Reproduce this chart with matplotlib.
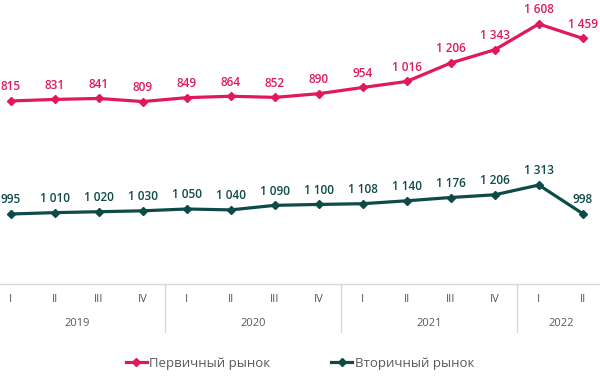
import matplotlib.pyplot as plt
import matplotlib.transforms as mtransforms
from matplotlib.lines import Line2D

plt.rcParams['font.family'] = ['Open Sans', 'DejaVu Sans']

quarters = ['I', 'II', 'III', 'IV', 'I', 'II', 'III', 'IV', 'I', 'II', 'III', 'IV', 'I', 'II']
years = ['2019', '2020', '2021', '2022']
year_quarters = [4, 4, 4, 2]
primary = [815, 831, 841, 809, 849, 864, 852, 890, 954, 1016, 1206, 1343, 1608, 1459]
secondary = [995, 1010, 1020, 1030, 1050, 1040, 1090, 1100, 1108, 1140, 1176, 1206, 1313, 998]

pink = '#E0195A'
teal = '#0E4B48'
grey = '#595959'

W, H = 600, 378
fig = plt.figure(figsize=(W / 100, H / 100), dpi=100)
base_y = 284  # pixel row of the category axis line

ax = fig.add_axes([0, 1 - base_y / H, 1, base_y / H])
ax2 = ax.twinx()
x = list(range(len(quarters)))

ax.plot(x, primary, color=pink, lw=2.3, marker='D', ms=4.5, zorder=3)
ax2.plot(x, secondary, color=teal, lw=2.3, marker='D', ms=4.5, zorder=3)

ax.set_xlim(-0.243, 13.39)
ax.set_ylim(-1070, 1855)
ax2.set_ylim(227, 3343)

def fmt(v):
    return f'{v:,}'.replace(',', ' ')

for xi, v in zip(x, primary):
    ax.annotate(fmt(v), (xi, v), xytext=(0, 5.5), textcoords='offset points',
                ha='center', va='bottom', fontsize=8.5, color=pink, fontweight='semibold')
for xi, v in zip(x, secondary):
    ax2.annotate(fmt(v), (xi, v), xytext=(0, 5.5), textcoords='offset points',
                 ha='center', va='bottom', fontsize=8.5, color=teal, fontweight='semibold')

for a in (ax, ax2):
    for s in a.spines.values():
        s.set_visible(False)
    a.set_yticks([])
    a.set_xticks([])

# category axis below the plot
trans = mtransforms.blended_transform_factory(ax.transData, fig.transFigure)
line_col = '#D9D9D9'
fig.add_artist(Line2D([0, 1], [1 - base_y / H] * 2, color=line_col, lw=1, transform=fig.transFigure))
for xi, q in zip(x, quarters):
    ax.text(xi, 1 - 299 / H, q, transform=trans, ha='center', va='center', fontsize=8, color=grey)
start = 0
for yr, n in zip(years, year_quarters):
    mid = start + (n - 1) / 2
    ax.text(mid, 1 - 323 / H, yr, transform=trans, ha='center', va='center', fontsize=8, color=grey)
    start += n
    if start < len(quarters):
        ax.plot([start - 0.5] * 2, [1 - base_y / H, 1 - 332 / H], color=line_col, lw=1,
                transform=trans, clip_on=False)

handles = [Line2D([], [], color=pink, lw=2.3, marker='D', ms=4),
           Line2D([], [], color=teal, lw=2.3, marker='D', ms=4)]
fig.legend(handles, ['Первичный рынок', 'Вторичный рынок'], loc='center',
           bbox_to_anchor=(0.5, 1 - 363 / H), ncol=2, frameon=False, fontsize=9.5,
           handlelength=1.6, handletextpad=0.2, columnspacing=4.6, labelcolor=grey)

fig.savefig('out.png', dpi=100)
